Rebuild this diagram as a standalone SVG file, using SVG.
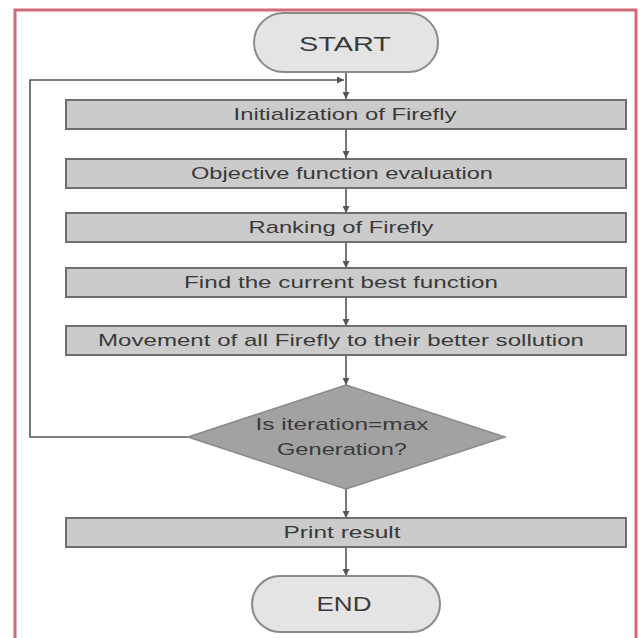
<svg xmlns="http://www.w3.org/2000/svg" width="641" height="638" viewBox="0 0 641 638">
<defs>
<style>
.box{fill:#cbcbcb;stroke:#6e6e6e;stroke-width:2}
.pill{fill:#e4e4e4;stroke:#8a8a8a;stroke-width:2}
.dia{fill:#a2a2a2;stroke:#8a8a8a;stroke-width:1.5}
.t{font-family:"Liberation Sans",Arial,sans-serif;font-size:17px;fill:#3a3a3a;text-anchor:middle;dominant-baseline:central}
.big{font-size:20px}
.c{fill:none;stroke:#555;stroke-width:1.6}
</style>
<marker id="ah" viewBox="0 0 10 10" refX="10" refY="5" markerWidth="7" markerHeight="7" orient="auto" markerUnits="userSpaceOnUse">
<path d="M0,0 L10,5 L0,10 z" fill="#555"/>
</marker>
</defs>
<rect width="641" height="638" fill="#ffffff"/>
<path d="M15,645 L15,10 L636,10 L636,645" fill="none" stroke="#d06a78" stroke-width="3"/>
<g id="connectors">
<path class="c" d="M346,72 L346,99" marker-end="url(#ah)"/>
<path class="c" d="M188,437 L30,437 L30,80 L344,80" marker-end="url(#ah)"/>
<path class="c" d="M346,129 L346,158" marker-end="url(#ah)"/>
<path class="c" d="M346,188 L346,213" marker-end="url(#ah)"/>
<path class="c" d="M346,242 L346,268" marker-end="url(#ah)"/>
<path class="c" d="M346,297 L346,326" marker-end="url(#ah)"/>
<path class="c" d="M346,355 L346,385" marker-end="url(#ah)"/>
<path class="c" d="M346,489 L346,518" marker-end="url(#ah)"/>
<path class="c" d="M346,547 L346,576" marker-end="url(#ah)"/>
</g>
<g id="start">
<rect class="pill" x="254" y="13" width="184" height="59" rx="29.5"/>
<text class="t big" x="345" y="44" textLength="92" lengthAdjust="spacingAndGlyphs">START</text>
</g>
<g id="init">
<rect class="box" x="66" y="100" width="560" height="29"/>
<text class="t" x="345" y="114" textLength="223" lengthAdjust="spacingAndGlyphs">Initialization of Firefly</text>
</g>
<g id="objective">
<rect class="box" x="66" y="159" width="560" height="29"/>
<text class="t" x="342" y="173" textLength="302" lengthAdjust="spacingAndGlyphs">Objective function evaluation</text>
</g>
<g id="ranking">
<rect class="box" x="66" y="213" width="560" height="29"/>
<text class="t" x="341" y="227" textLength="185" lengthAdjust="spacingAndGlyphs">Ranking of Firefly</text>
</g>
<g id="findbest">
<rect class="box" x="66" y="268" width="560" height="29"/>
<text class="t" x="341" y="282" textLength="314" lengthAdjust="spacingAndGlyphs">Find the current best function</text>
</g>
<g id="movement">
<rect class="box" x="66" y="326" width="560" height="29"/>
<text class="t" x="341" y="340" textLength="486" lengthAdjust="spacingAndGlyphs">Movement of all Firefly to their better sollution</text>
</g>
<g id="decision">
<polygon class="dia" points="346,385 505,437 346,489 188,437"/>
<text class="t" x="342" y="424" textLength="173" lengthAdjust="spacingAndGlyphs">Is iteration=max</text>
<text class="t" x="342" y="449" textLength="130" lengthAdjust="spacingAndGlyphs">Generation?</text>
</g>
<g id="print">
<rect class="box" x="66" y="518" width="560" height="29"/>
<text class="t" x="342" y="532" textLength="117" lengthAdjust="spacingAndGlyphs">Print result</text>
</g>
<g id="end">
<rect class="pill" x="252" y="576" width="188" height="56" rx="28"/>
<text class="t big" x="344" y="604" textLength="55" lengthAdjust="spacingAndGlyphs">END</text>
</g>
</svg>
